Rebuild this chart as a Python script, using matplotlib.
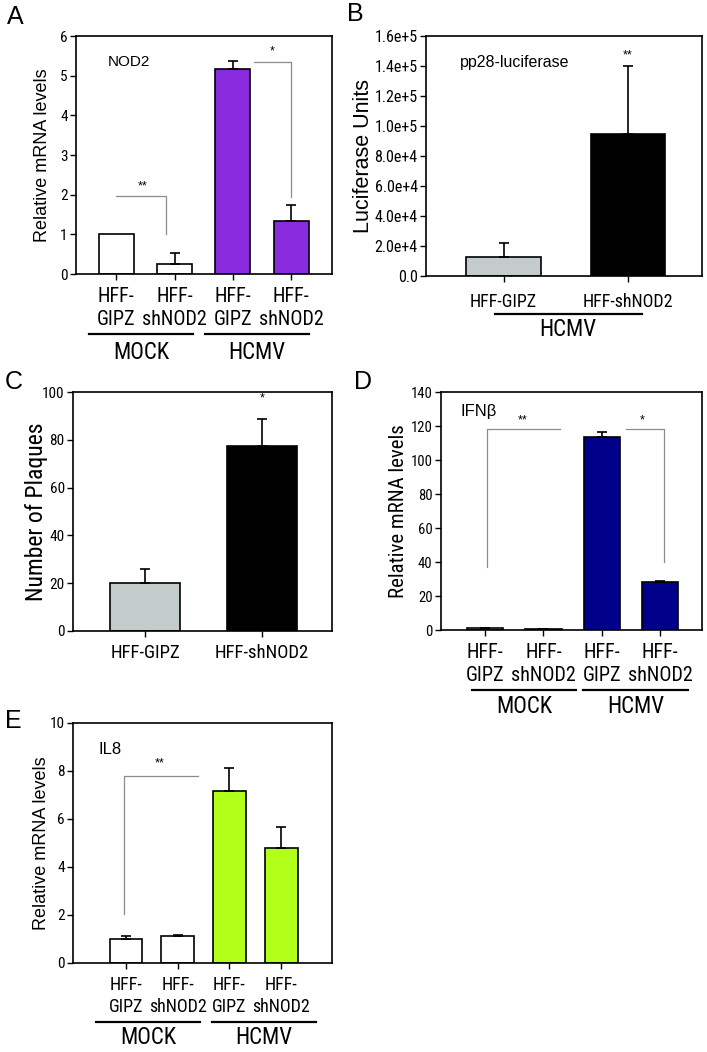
import matplotlib
matplotlib.use("Agg")
import matplotlib.pyplot as plt
from matplotlib import font_manager as fm
import numpy as np

plt.rcParams['font.family'] = ['Liberation Sans', 'DejaVu Sans']
NORMAL = ['Liberation Sans', 'DejaVu Sans']

# look for an installed condensed/narrow sans face
_pref = ['Liberation Sans Narrow', 'Roboto Condensed', 'Open Sans Condensed', 'DejaVu Sans', 'Noto Sans', 'Roboto', 'Open Sans']
_cond = []
for f in fm.fontManager.ttflist:
    st = str(f.stretch).lower()
    is_cond = ('narrow' in f.name.lower() or 'condensed' in f.name.lower()
               or st in ('condensed', 'semi-condensed', 'extra-condensed', 'ultra-condensed')
               or 'condensed' in f.fname.lower() or 'narrow' in f.fname.lower())
    if is_cond and f.style == 'normal' and f.weight in (400, 'normal', 'regular', 'book') \
            and 'bold' not in f.fname.lower() and 'oblique' not in f.fname.lower() \
            and 'italic' not in f.fname.lower() and 'mono' not in f.fname.lower():
        _cond.append(f)
_cond.sort(key=lambda f: next((i for i, p in enumerate(_pref) if f.name.startswith(p)), 99))
NARROW_FILE = _cond[0].fname if _cond else None
HAS_NARROW = NARROW_FILE is not None


def nfp(size):
    if HAS_NARROW:
        return fm.FontProperties(fname=NARROW_FILE, size=size)
    return fm.FontProperties(family=NORMAL, size=size * 0.82)


# ---------------- data ----------------
labels_two_line = ["HFF-\nGIPZ", "HFF-\nshNOD2", "HFF-\nGIPZ", "HFF-\nshNOD2"]
labels_one_line = ["HFF-GIPZ", "HFF-shNOD2"]
groups = ["MOCK", "HCMV"]

a_vals = [1.0, 0.25, 5.17, 1.33]
a_errs = [0.0, 0.27, 0.20, 0.40]
a_colors = ["white", "white", "#8A2BE0", "#8A2BE0"]

b_vals = [1.27e4, 9.44e4]
b_errs = [0.93e4, 4.55e4]
b_colors = ["#C4CCCB", "black"]

c_vals = [20.0, 77.2]
c_errs = [5.8, 11.7]
c_colors = ["#C4CCCB", "black"]

d_vals = [1.0, 0.3, 113.6, 28.0]
d_errs = [0.3, 0.4, 2.7, 0.6]
d_colors = ["white", "white", "#00008B", "#00008B"]

e_vals = [1.0, 1.13, 7.17, 4.80]
e_errs = [0.11, 0.05, 0.95, 0.88]
e_colors = ["white", "white", "#B2FF1A", "#B2FF1A"]

W, H = 707, 1052
fig = plt.figure(figsize=(W / 100, H / 100), dpi=100)


def add_ax(left, right, top, bottom):
    return fig.add_axes([left / W, 1 - bottom / H, (right - left) / W, (bottom - top) / H])


def style(ax, ylim, yticks, yfmt, ylabel, ylabel_fp, label_x, tick_size, xlabels, xlab_size, xlim):
    ax.set_xlim(*xlim)
    ax.set_ylim(*ylim)
    ax.set_yticks(yticks)
    ax.set_yticklabels([yfmt(v) for v in yticks], fontproperties=nfp(tick_size))
    ax.set_xticks(range(len(xlabels)))
    ax.set_xticklabels(xlabels, fontproperties=nfp(xlab_size), linespacing=1.3)
    ax.tick_params(axis='both', direction='out', length=4, width=1.0, top=False, right=False)
    ax.tick_params(axis='y', pad=2)
    ax.tick_params(axis='x', pad=5)
    for s in ax.spines.values():
        s.set_linewidth(1.2)
    ax.set_ylabel(ylabel, fontproperties=ylabel_fp)
    ax.yaxis.label.set_verticalalignment('center')
    ax.yaxis.set_label_coords(label_x, 0.5)


def bars(ax, vals, errs, colors, width):
    x = np.arange(len(vals))
    vals = np.asarray(vals, float)
    errs = np.asarray(errs, float)
    ax.bar(x, vals, width=width, color=colors, edgecolor='black', linewidth=1.2, zorder=2)
    m = errs > 0
    ax.errorbar(x[m], vals[m], yerr=[np.zeros(m.sum()), errs[m]], fmt='none', ecolor='black',
                elinewidth=1.2, capsize=3.5, capthick=1.2, zorder=3)


def bracket(ax, pts, color="#8C8C8C"):
    xs, ys = zip(*pts)
    ax.plot(xs, ys, color=color, lw=0.9, zorder=1)


def group_lines(ax, spans, y_line, y_text, size):
    tr = ax.get_xaxis_transform()
    for (x0, x1), g in zip(spans, groups):
        ax.plot([x0, x1], [y_line, y_line], color='black', lw=1.6, transform=tr, clip_on=False)
        ax.text((x0 + x1) / 2, y_text, g, transform=tr, ha='center', va='center',
                fontproperties=nfp(size))


def normal_fp(size):
    return fm.FontProperties(family=NORMAL, size=size)


# ---------------- A ----------------
axA = add_ax(76, 332, 36, 274)
bars(axA, a_vals, a_errs, a_colors, 0.6)
style(axA, (0, 6), range(0, 7), lambda v: f"{v:d}", "Relative mRNA levels", normal_fp(13), -0.129, 11,
      labels_two_line, 14.5, (-0.69, 3.70))
bracket(axA, [(0, 1.96), (0.85, 1.96), (0.85, 1.02)])
axA.text(0.45, 2.22, "**", ha='center', va='center', fontsize=9)
bracket(axA, [(2.36, 5.34), (3.0, 5.34), (3.0, 1.95)])
axA.text(2.68, 5.6, "*", ha='center', va='center', fontsize=9)
axA.text(0.125, 0.89, "NOD2", transform=axA.transAxes, fontsize=11, ha='left', va='center')
group_lines(axA, [(-0.46, 1.32), (1.52, 3.31)], -0.252, -0.33, 16.5)

# ---------------- B ----------------
axB = add_ax(426, 702, 36, 276)
bars(axB, b_vals, b_errs, b_colors, 0.6)
b_ticks = np.arange(0, 1.61e5, 2e4)
style(axB, (0, 1.6e5), b_ticks,
      lambda v: "0.0" if v == 0 else f"{v / 10 ** int(np.floor(np.log10(v))):.1f}e+{int(np.floor(np.log10(v)))}",
      "Luciferase Units", normal_fp(15.5), -0.228, 11.5, labels_one_line, 13, (-0.625, 1.597))
axB.tick_params(axis='x', pad=8)
axB.text(1.0, 1.47e5, "**", ha='center', va='center', fontsize=9)
axB.text(0.123, 0.89, "pp28-luciferase", transform=axB.transAxes, fontsize=11.5, ha='left', va='center')
trB = axB.get_xaxis_transform()
axB.plot([-0.07, 1.11], [-0.158, -0.158], color='black', lw=1.6, transform=trB, clip_on=False)
axB.text(0.52, -0.225, "HCMV", transform=trB, ha='center', va='center', fontproperties=nfp(16.5))

# ---------------- C ----------------
axC = add_ax(73, 332, 392, 631)
bars(axC, c_vals, c_errs, c_colors, 0.6)
style(axC, (0, 100), range(0, 101, 20), lambda v: f"{v:d}", "Number of Plaques", nfp(17), -0.139, 11,
      labels_one_line, 13.5, (-0.617, 1.602))
axC.text(1.0, 97.5, "*", ha='center', va='center', fontsize=9)

# ---------------- D ----------------
axD = add_ax(441, 702, 392, 630)
bars(axD, d_vals, d_errs, d_colors, 0.62)
style(axD, (0, 140), range(0, 141, 20), lambda v: f"{v:d}", "Relative mRNA levels", nfp(15), -0.162, 10.5,
      labels_two_line, 14.5, (-0.755, 3.717))
bracket(axD, [(0.04, 37.2), (0.04, 118.1), (1.29, 118.1)])
axD.text(0.65, 123.5, "**", ha='center', va='center', fontsize=9)
bracket(axD, [(2.41, 118.5), (3.06, 118.5), (3.06, 39.8)])
axD.text(2.70, 123.5, "*", ha='center', va='center', fontsize=9)
axD.text(0.073, 0.917, "IFN\u03b2", transform=axD.transAxes, fontsize=12, ha='left', va='center')
group_lines(axD, [(-0.22, 1.56), (1.68, 3.48)], -0.252, -0.32, 16.5)

# ---------------- E ----------------
axE = add_ax(73, 332, 723, 963)
bars(axE, e_vals, e_errs, e_colors, 0.63)
style(axE, (0, 10), range(0, 11, 2), lambda v: f"{v:d}", "Relative mRNA levels", normal_fp(13), -0.12, 11,
      labels_two_line, 13, (-1.02, 3.98))
bracket(axE, [(-0.03, 2.06), (-0.03, 7.8), (1.40, 7.8)])
axE.text(0.66, 8.3, "**", ha='center', va='center', fontsize=9)
axE.text(0.098, 0.888, "IL8", transform=axE.transAxes, fontsize=12, ha='left', va='center')
group_lines(axE, [(-0.58, 1.43), (1.66, 3.67)], -0.245, -0.31, 16.5)

# ---------------- panel letters ----------------
for letter, (px, py) in {"A": (7, 5), "B": (347, 2), "C": (5, 370), "D": (354, 370), "E": (5, 709)}.items():
    fig.text(px / W, 1 - py / H, letter, fontsize=18, ha='left', va='top', family=NORMAL)

fig.savefig("out.png", dpi=100)
